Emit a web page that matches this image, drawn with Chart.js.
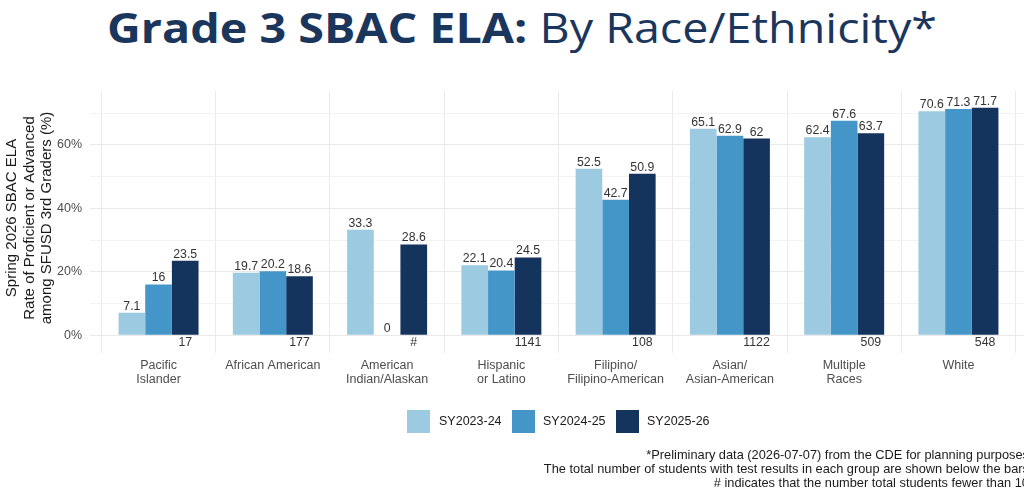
<!DOCTYPE html>
<html>
<head>
<meta charset="utf-8">
<script src="https://cdn.jsdelivr.net/npm/chart.js@4.4.1/dist/chart.umd.min.js"></script>
<style>
  html, body { margin:0; padding:0; width:1024px; height:500px; overflow:hidden; background:#fff; }
  body { position:relative; }
  #wrap { position:absolute; left:0; top:0; width:1040px; height:500px; }
  #title { position:absolute; left:107px; top:6px; white-space:nowrap; color:#1b365d; font-family:'Open Sans', sans-serif; font-size:42px; line-height:1; transform-origin:left top; }
  #title b { font-weight:700; }
  #title span { font-weight:400; }
  .lg-box { position:absolute; top:410px; width:23px; height:23px; }
  .lg-txt { position:absolute; top:410px; height:23px; line-height:23px; font-family:'Liberation Sans', Arial, sans-serif; font-size:12.5px; color:#1a1a1a; white-space:nowrap; }
  #foot { position:absolute; right:-5px; top:448px; text-align:right; font-family:'Liberation Sans', Arial, sans-serif; font-size:12.8px; line-height:14px; color:#1a1a1a; white-space:nowrap; }
</style>
</head>
<body>
<div id="title"><b>Grade 3 SBAC ELA:</b><span> By Race/Ethnicity*</span></div>
<div id="wrap"><canvas id="c" width="1040" height="500"></canvas></div>
<div id="legend"></div>
<div id="foot">*Preliminary data (2026-07-07) from the CDE for planning purposes<br>The total number of students with test results in each group are shown below the bars<br># indicates that the number total students fewer than 10</div>
<script>
const categories = [["Pacific","Islander"],["African American"],["American","Indian/Alaskan"],["Hispanic","or Latino"],["Filipino/","Filipino-American"],["Asian/","Asian-American"],["Multiple","Races"],["White"]];
const seriesNames = ["SY2023-24","SY2024-25","SY2025-26"];
const sy2324 = [7.1, 19.7, 33.3, 22.1, 52.5, 65.1, 62.4, 70.6];
const sy2425 = [16, 20.2, 0, 20.4, 42.7, 62.9, 67.6, 71.3];
const sy2526 = [23.5, 18.6, 28.6, 24.5, 50.9, 62, 63.7, 71.7];
const studentCounts = ["17","177","#","1141","108","1122","509","548"];
const yTickValues = [0, 10, 20, 30, 40, 50, 60, 70];
const yTitleLines = ["Spring 2026 SBAC ELA", "Rate of Proficient or Advanced", "among SFUSD 3rd Graders (%)"];
const colors = ['#9ccae0', '#4596c8', '#14335d'];

// title fit
(function(){
  const t = document.getElementById('title');
  const w = t.getBoundingClientRect().width;
  t.style.transform = 'scaleX(' + (830 / w) + ')';
})();

// legend
(function(){
  const lg = document.getElementById('legend');
  const boxX = [407, 512, 616], txtX = [439, 543, 647];
  seriesNames.forEach((n, i) => {
    const b = document.createElement('div'); b.className = 'lg-box'; b.style.left = boxX[i] + 'px'; b.style.background = colors[i]; lg.appendChild(b);
    const t = document.createElement('div'); t.className = 'lg-txt'; t.style.left = txtX[i] + 'px'; t.textContent = n; lg.appendChild(t);
  });
})();

const seriesValues = [sy2324, sy2425, sy2526];
const datasets = seriesValues.map((vals, si) => ({
  label: seriesNames[si],
  data: vals.map((v, i) => ({ x: i, y: v })),
  backgroundColor: colors[si],
  borderWidth: 0,
  categoryPercentage: 0.7,
  barPercentage: 1.0
}));

const labelPlugin = {
  id: 'barLabels',
  afterDatasetsDraw(chart) {
    const ctx = chart.ctx;
    ctx.save();
    ctx.font = '12.3px "Liberation Sans", Arial, sans-serif';
    ctx.fillStyle = '#333333';
    ctx.textAlign = 'center';
    ctx.textBaseline = 'middle';
    chart.data.datasets.forEach((ds, di) => {
      chart.getDatasetMeta(di).data.forEach((el, i) => {
        ctx.fillText(String(ds.data[i].y), el.x, el.y - 6.5);
      });
    });
    const y0 = chart.scales.y.getPixelForValue(0);
    chart.getDatasetMeta(2).data.forEach((el, i) => {
      ctx.fillText(studentCounts[i], el.x, y0 + 7.5);
    });
    // y axis title
    ctx.font = '15px "Liberation Sans", Arial, sans-serif';
    ctx.fillStyle = '#1a1a1a';
    ctx.translate(0, 218);
    ctx.rotate(-Math.PI / 2);
    const xs = [12, 29.5, 47];
    yTitleLines.forEach((l, i) => ctx.fillText(l, 0, xs[i]));
    ctx.restore();
  }
};

new Chart(document.getElementById('c'), {
  type: 'bar',
  data: { datasets },
  options: {
    responsive: false,
    animation: false,
    layout: { padding: { top: 90.7, right: 13, bottom: 100.6, left: 0 } },
    plugins: { legend: { display: false }, tooltip: { enabled: false } },
    scales: {
      x: {
        type: 'linear', min: -0.6, max: 7.6, offset: false,
        afterBuildTicks: (s) => { s.ticks = categories.map((c, i) => ({ value: i })); },
        afterFit: (s) => { s.height = 46; },
        ticks: {
          callback: (v) => categories[v],
          color: '#4d4d4d',
          font: { family: 'Liberation Sans', size: 12.5, lineHeight: 1.12 },
          padding: 5, maxRotation: 0, autoSkip: false
        },
        grid: { color: '#ebebeb', drawTicks: false },
        border: { display: false }
      },
      y: {
        min: -5.7, max: 77.1,
        afterBuildTicks: (s) => { s.ticks = yTickValues.map(v => ({ value: v })); },
        afterFit: (s) => { s.width = 90; },
        ticks: {
          callback: (v) => (v % 20 === 0 ? v + '%' : ''),
          color: '#4d4d4d',
          font: { family: 'Liberation Sans', size: 12.5 },
          padding: 8
        },
        grid: {
          color: (c) => (c.tick && c.tick.value % 20 === 0) ? '#e9e9e9' : '#f2f2f2',
          drawTicks: false
        },
        border: { display: false }
      }
    }
  },
  plugins: [labelPlugin]
});
</script>
</body>
</html>
